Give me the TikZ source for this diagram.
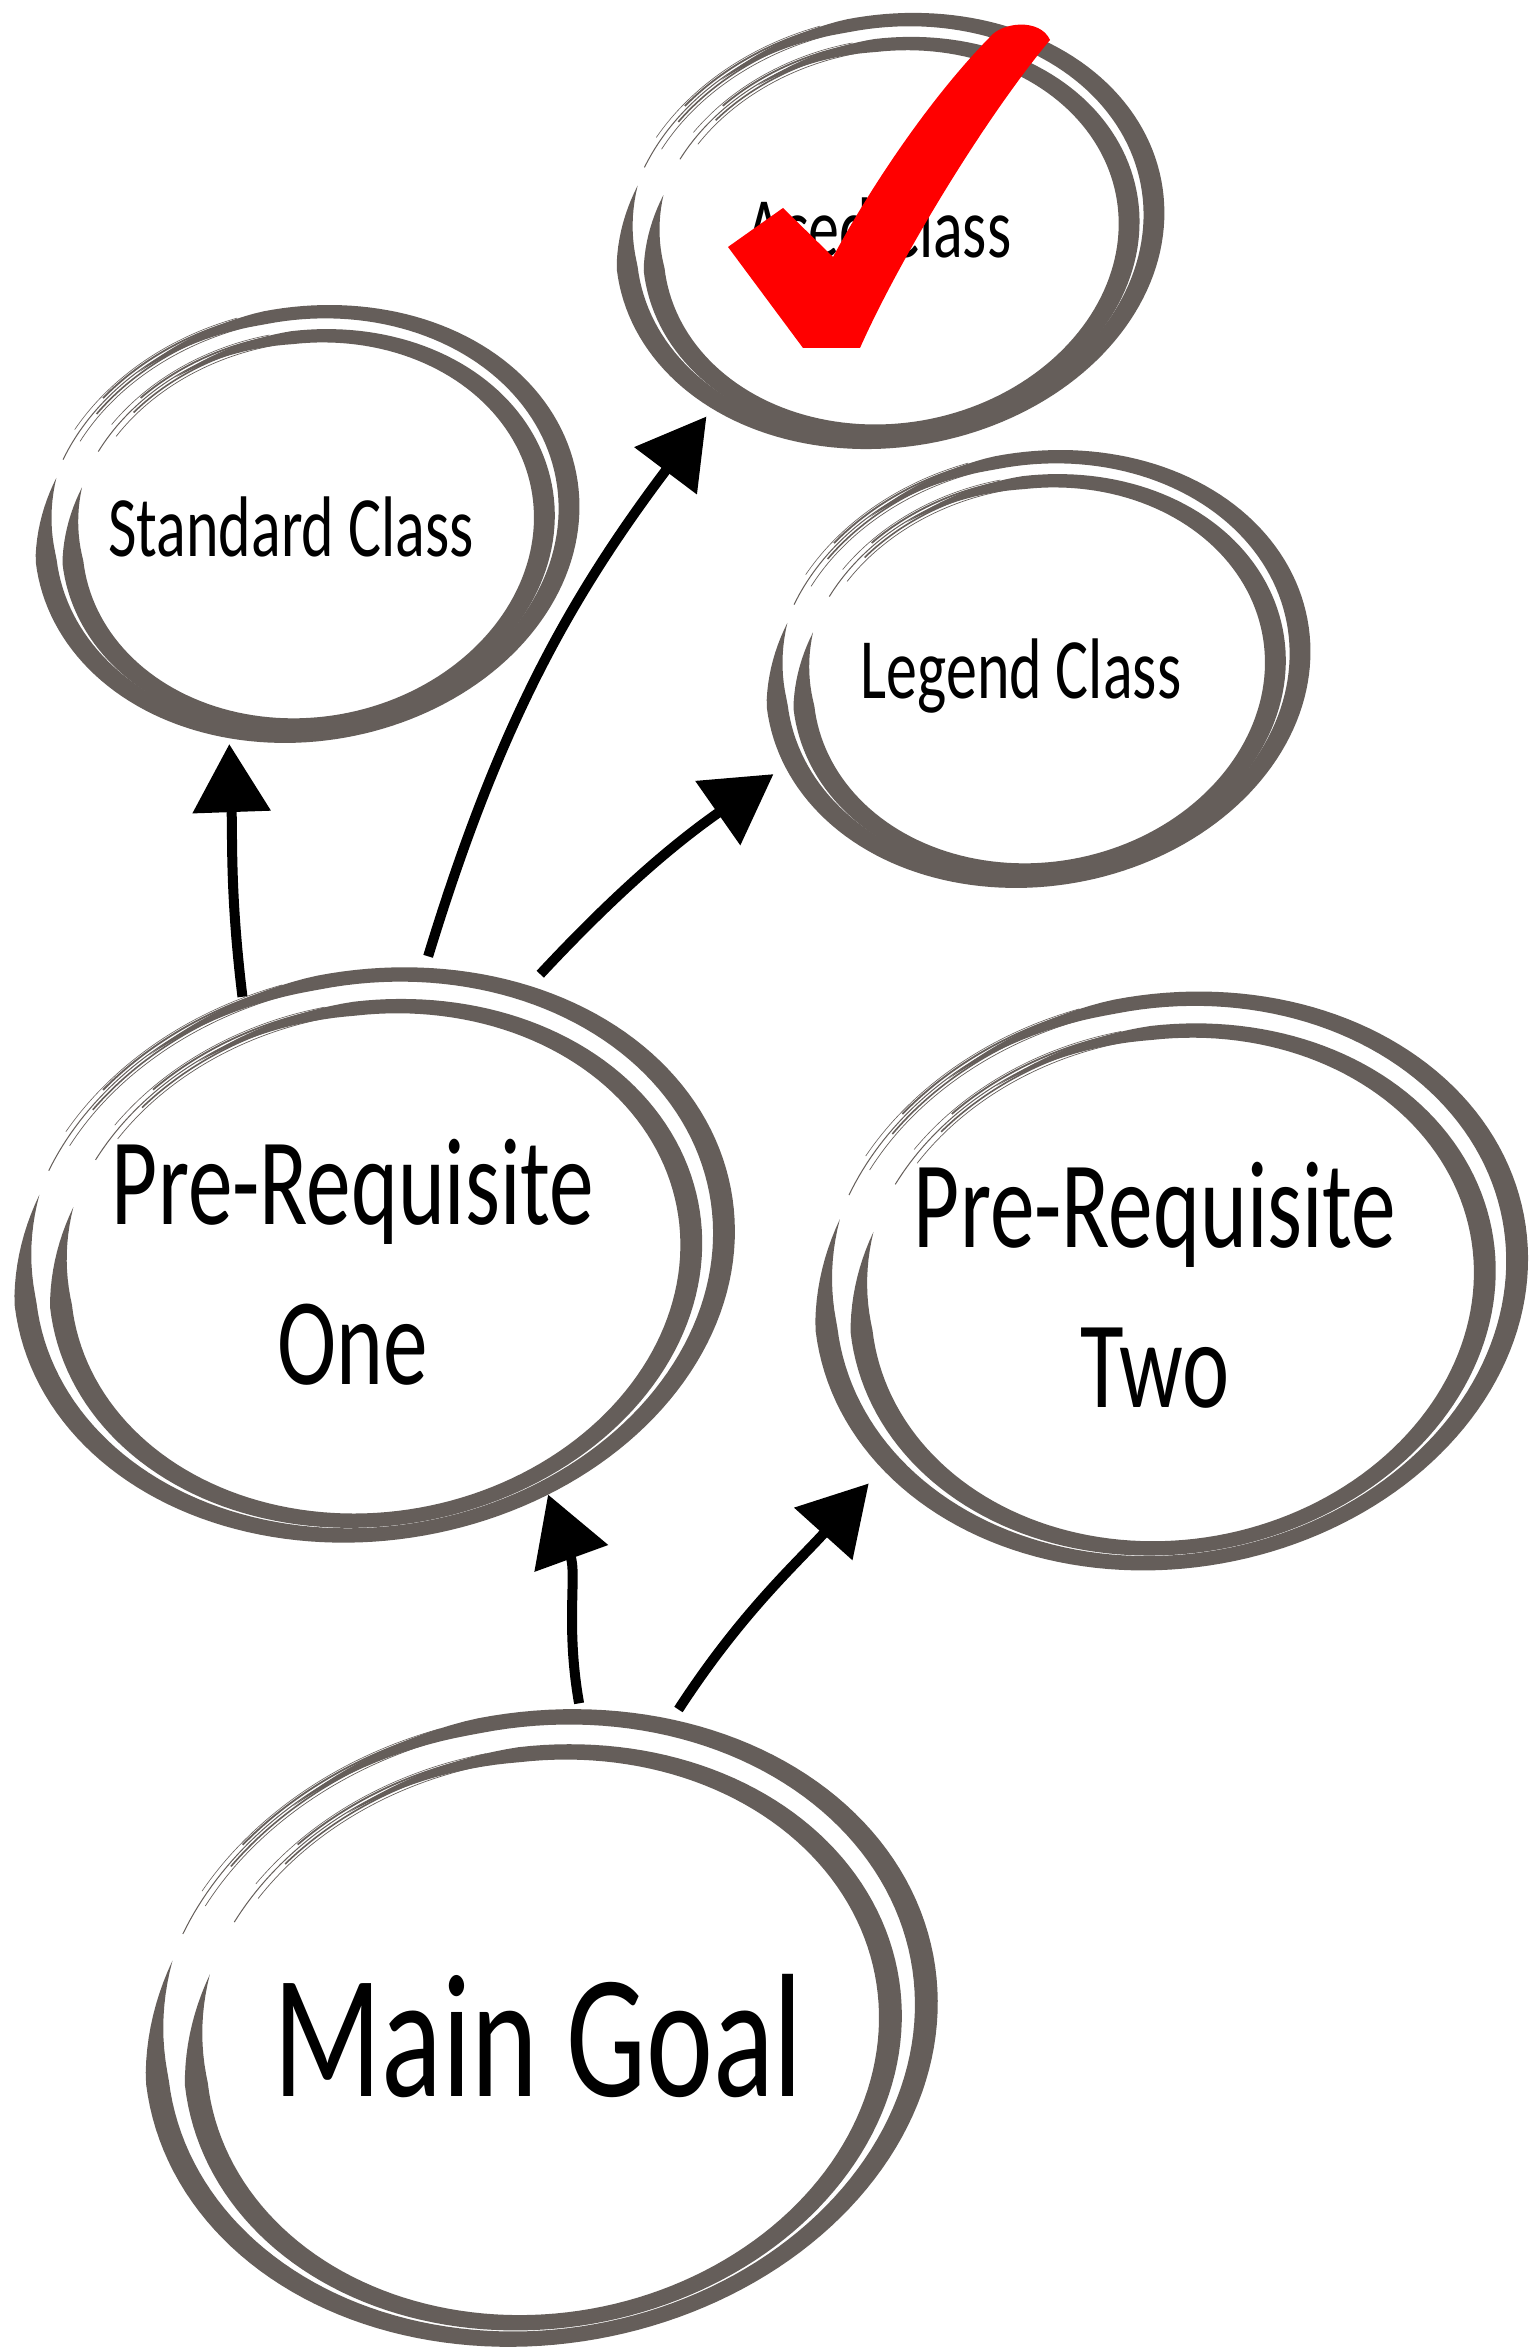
\documentclass[tikz,border=0pt]{standalone}
\usepackage{fontspec}
\newfontfamily\hand[FakeStretch=0.72]{Carlito}
\usetikzlibrary{shapes.geometric,arrows.meta}
\definecolor{ringgray}{RGB}{101,94,90}
\definecolor{tickred}{RGB}{255,0,0}

% one brush stroke round an ellipse: #1,#2 centre-line radii, #3 vertical offset,
% #4 width at top and bottom, #5 angle where the thick part has faded out,
% #6 width at the sides
\newcommand\brushring[6]{%
  \fill[ringgray] plot[domain=155:#5, samples=160, variable=\t]
      ({(#1+0.5*(#4+(#6-#4)*cos(\t)^2)*min(1,(\t-155)/22,(#5-\t)/30))*cos(\t)},
       {#3+(#2+0.5*(#4+(#6-#4)*cos(\t)^2)*min(1,(\t-155)/22,(#5-\t)/30))*sin(\t)})
    -- plot[domain=#5:155, samples=160, variable=\t]
      ({(#1-0.5*(#4+(#6-#4)*cos(\t)^2)*min(1,(\t-155)/22,(#5-\t)/30))*cos(\t)},
       {#3+(#2-0.5*(#4+(#6-#4)*cos(\t)^2)*min(1,(\t-155)/22,(#5-\t)/30))*sin(\t)})
    -- cycle;
  \pgfmathsetmacro\bristlestart{#5-25}%
  \foreach \off/\extra/\lw in {-5/22/0.35,-2/14/0.8,1/28/0.5,4/10/0.9,6/20/0.3}{
    \pgfmathsetmacro\bristlestop{#5+\extra}
    \draw[ringgray, line width=\lw pt]
      plot[domain=\bristlestart:\bristlestop, samples=40, variable=\t]
      ({(#1+\off)*cos(\t)}, {#3+(#2+\off)*sin(\t)});
  }
}

% the double hand-drawn ring round a node: #1 node, #2,#3 half axes,
% #4 thin width, #5 thick width
\newcommand\ellring[5]{%
  \begin{scope}[shift={(#1.center)}, rotate=10]
    \pgfmathsetmacro\ra{#2-0.5*#5}\pgfmathsetmacro\rb{#3-0.5*#4}
    \brushring{\ra}{\rb}{0}{#4}{482}{#5}
    \pgfmathsetmacro\ia{#2-0.5*#5-0.095*#2}\pgfmathsetmacro\ib{#3-0.5*#4-0.08*#3}
    \pgfmathsetmacro\iy{-0.03*#3}
    \brushring{\ia}{\ib}{\iy}{#4}{476}{#5}
  \end{scope}}

\tikzset{
  ringnode/.style={ellipse, inner sep=0pt, outer sep=0pt, rotate=10},
  lbl/.style={font=\hand\fontsize{43}{50}\selectfont, anchor=base, inner sep=0pt},
  biglbl/.style={font=\hand\fontsize{62}{80}\selectfont, align=center, anchor=base, inner sep=0pt},
  goallbl/.style={font=\hand\fontsize{88}{100}\selectfont, anchor=base, inner sep=0pt},
  link/.style={line width=5pt, -{Triangle[length=34pt,width=38pt]}},
}

\begin{document}
\begin{tikzpicture}[x=0.5pt, y=0.5pt]
  \fill[white] (0,0) rectangle (1532,2348);
  \useasboundingbox (0,0) rectangle (1532,2348);

  % outlines of the six goals
  \node[ringnode, minimum width=276pt, minimum height=216pt] (ace)  at (890,2117) {};
  \node[ringnode, minimum width=274pt, minimum height=217pt] (std)  at (307,1824) {};
  \node[ringnode, minimum width=274pt, minimum height=217pt] (leg)  at (1038,1679) {};
  \node[ringnode, minimum width=363pt, minimum height=285pt] (p1)   at (374,1093) {};
  \node[ringnode, minimum width=359pt, minimum height=287pt] (p2)   at (1171,1067) {};
  \node[ringnode, minimum width=399pt, minimum height=316pt] (goal) at (541,320) {};

  \ellring{ace}{276}{216}{13}{21}
  \ellring{std}{274}{217}{13}{21}
  \ellring{leg}{274}{217}{13}{21}
  \ellring{p1}{363}{285}{14}{22}
  \ellring{p2}{359}{287}{14}{22}
  \ellring{goal}{399}{316}{15}{23}

  % labels
  \node[lbl] (acetext) at (879,2090) {Aced Class};
  \node[lbl] (stdtext) at (291,1791) {Standard Class};
  \node[lbl] (legtext) at (1021,1649) {Legend Class};
  \node[biglbl] (p1text) at (353,963) {Pre-Requisite\\One};
  \node[biglbl] (p2text) at (1155,940) {Pre-Requisite\\Two};
  \node[goallbl] (goaltext) at (538,251) {Main Goal};

  % dependencies
  \draw[link, shorten >=3pt] (p1.107) to[out=97,in=-88] (std.240);
  \draw[link, shorten <=6pt, shorten >=5pt] (p1.70) to[out=73,in=-127] (ace.215);
  \draw[link, shorten <=8pt, shorten >=7pt] (p1.50) to[out=47,in=-145] (leg.191);
  \draw[link, shorten <=3pt] (goal.73) to[out=100,in=-70] (p1.296);
  \draw[link, shorten <=6pt, shorten >=10pt] (goal.57) to[out=57,in=-132] (p2.203);

  % tick over the finished class
  \fill[tickred] (803,2000) -- (728,2101) -- (783,2140) -- (833,2091)
    .. controls (870,2160) and (930,2250) .. (990,2311)
    .. controls (1002,2326) and (1040,2330) .. (1050,2308)
    .. controls (985,2230) and (900,2090) .. (860,2000) -- cycle;
\end{tikzpicture}
\end{document}
